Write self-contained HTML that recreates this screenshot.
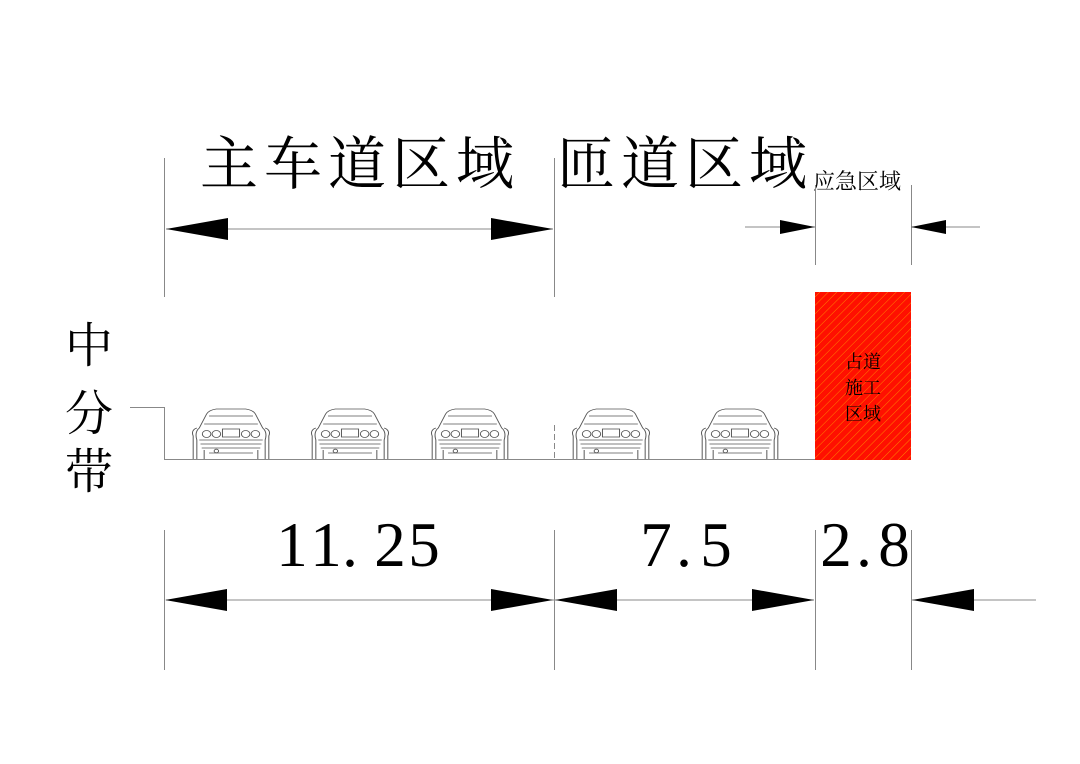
<!DOCTYPE html>
<html><head><meta charset="utf-8"><style>
html,body{margin:0;padding:0;background:#fff}
svg{display:block}
.cjk{font-family:"Liberation Serif","Noto Serif CJK SC",serif;fill:#000}
.num{font-family:"Liberation Serif","Noto Serif CJK SC",serif;fill:#000;font-size:63px;text-anchor:middle}
</style></head><body>
<svg width="1080" height="764" viewBox="0 0 1080 764" xmlns="http://www.w3.org/2000/svg">
<defs>
<pattern id="hatch" width="6" height="6" patternUnits="userSpaceOnUse" patternTransform="rotate(45)">
<rect width="6" height="6" fill="#ff1000"/>
<line x1="0" y1="0" x2="0" y2="6" stroke="#ff8000" stroke-width="1"/>
</pattern>
<g id="car0" fill="none" stroke="#555" stroke-width="0.8">
<path d="M-28,51 L-28,32 Q-30,24 -26,20 L-20,6 Q-18,2 -12,1 L12,1 Q18,2 20,6 L26,20 Q30,24 28,32 L28,51"/>
<path d="M-31,51 L-31,28 Q-33,22 -28,20 M31,51 L31,28 Q33,22 28,20"/>
<path d="M-18,8 L18,8 M-22,16 L22,16"/>
<circle cx="-20" cy="26" r="3.5"/><circle cx="-12" cy="26" r="3.5"/>
<circle cx="12" cy="26" r="3.5"/><circle cx="20" cy="26" r="3.5"/>
<rect x="-7" y="21" width="14" height="8"/>
<path d="M-26,32 L26,32 M-25,36 L25,36 M-24,40 L24,40"/>
<circle cx="-12" cy="43" r="1.8"/>
<path d="M-22,42 L-22,51 M22,42 L22,51 M-18,45 L18,45"/>
</g>
<g id="car"><use href="#car0" transform="scale(1.22,1)"/></g>
<polygon id="ar" points="0,0 62,-11 62,11" fill="#000"/>
<polygon id="as" points="0,0 35,-7 35,7" fill="#000"/>
</defs>

<text class="cjk" x="200" y="184" font-size="58" letter-spacing="6">主车道区域</text>
<text class="cjk" x="557" y="184" font-size="58" letter-spacing="6">匝道区域</text>
<text class="cjk" x="813" y="189" font-size="22">应急区域</text>

<g stroke="#888" stroke-width="1">
<line x1="164.5" y1="158" x2="164.5" y2="297"/>
<line x1="554.5" y1="158" x2="554.5" y2="297"/>
<line x1="815.5" y1="185" x2="815.5" y2="265"/>
<line x1="911.5" y1="185" x2="911.5" y2="265"/>
<line x1="164.5" y1="530" x2="164.5" y2="670"/>
<line x1="554.5" y1="530" x2="554.5" y2="670"/>
<line x1="815.5" y1="530" x2="815.5" y2="670"/>
<line x1="911.5" y1="530" x2="911.5" y2="670"/>
<line x1="166" y1="229" x2="553" y2="229"/>
<line x1="745" y1="227" x2="815" y2="227"/>
<line x1="911" y1="227" x2="980" y2="227"/>
<line x1="166" y1="600" x2="814" y2="600"/>
<line x1="912" y1="600" x2="1036" y2="600"/>
<polyline points="130,407.5 164.5,407.5 164.5,459.5 815,459.5" fill="none"/>
<line x1="554.5" y1="425" x2="554.5" y2="459" stroke-dasharray="6,3"/>
</g>

<use href="#ar" x="166" y="229"/>
<use href="#ar" transform="translate(553,229) scale(-1,1)"/>
<use href="#as" transform="translate(815,227) scale(-1,1)"/>
<use href="#as" x="911" y="227"/>
<use href="#ar" x="165" y="600"/>
<use href="#ar" transform="translate(553,600) scale(-1,1)"/>
<use href="#ar" x="555" y="600"/>
<use href="#ar" transform="translate(814,600) scale(-1,1)"/>
<use href="#ar" x="912" y="600"/>

<use href="#car" x="231" y="408"/>
<use href="#car" x="350" y="408"/>
<use href="#car" x="470" y="408"/>
<use href="#car" x="611" y="408"/>
<use href="#car" x="740" y="408"/>

<rect x="815" y="292" width="96" height="168" fill="url(#hatch)"/>
<text class="cjk" x="845" y="368" font-size="18">占道</text>
<text class="cjk" x="845" y="394" font-size="18">施工</text>
<text class="cjk" x="845" y="420" font-size="18">区域</text>

<text class="cjk" x="65" y="362" font-size="48">中</text>
<text class="cjk" x="65" y="430" font-size="48">分</text>
<text class="cjk" x="65" y="488" font-size="48">带</text>

<text class="num" x="292" y="566">1</text>
<text class="num" x="326" y="566">1</text>
<text class="num" x="350" y="566">.</text>
<text class="num" x="390" y="566">2</text>
<text class="num" x="424" y="566">5</text>
<text class="num" x="656" y="566">7</text>
<text class="num" x="684" y="566">.</text>
<text class="num" x="716" y="566">5</text>
<text class="num" x="836" y="566">2</text>
<text class="num" x="864" y="566">.</text>
<text class="num" x="894" y="566">8</text>
</svg>
</body></html>
